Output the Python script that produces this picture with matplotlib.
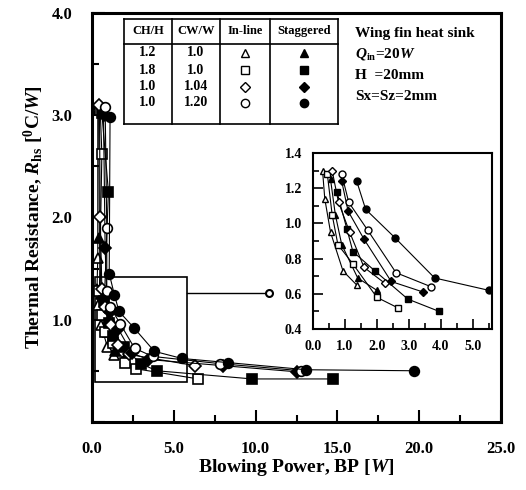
import numpy as np
import matplotlib.pyplot as plt
from matplotlib.patches import Rectangle
from matplotlib.ticker import MultipleLocator, FormatStrFormatter

plt.rcParams.update({"font.family": "Liberation Serif", "font.weight": "bold",
                     "mathtext.fontset": "custom",
                     "mathtext.rm": "Liberation Serif:bold",
                     "mathtext.it": "Liberation Serif:italic:bold",
                     "mathtext.bf": "Liberation Serif:bold"})

# blowing power [W] and thermal resistance [C/W], one list per case
# order: CH/H=1.2, CH/H=1.8, CW/W=1.04, CW/W=1.20
inline_x = [[0.35, 0.35, 0.3, 0.37, 0.55, 0.94, 1.37],
            [0.5, 0.6, 0.45, 0.6, 0.78, 1.25, 2.0, 2.66, 6.5],
            [0.45, 0.5, 0.6, 0.8, 1.15, 1.6, 2.25, 6.3],
            [0.8, 0.9, 0.9, 1.12, 1.72, 2.6, 3.7, 7.8, 12.8]]
inline_y = [[3.08, 1.6, 1.30, 1.14, 0.95, 0.73, 0.65],
            [3.05, 2.62, 1.28, 1.05, 0.88, 0.77, 0.58, 0.52, 0.42],
            [3.1, 2.0, 1.30, 1.12, 0.95, 0.75, 0.66, 0.55],
            [3.08, 1.9, 1.28, 1.12, 0.96, 0.72, 0.64, 0.57, 0.50]]
stag_x = [[0.4, 0.45, 0.55, 0.7, 0.9, 1.4, 2.0],
          [0.6, 1.0, 0.75, 1.06, 1.25, 1.94, 2.97, 3.95, 9.8, 14.7],
          [0.7, 0.8, 0.9, 1.1, 1.6, 2.45, 3.45, 8.0, 12.5],
          [1.1, 1.05, 1.37, 1.65, 2.56, 3.81, 5.5, 8.3, 13.1, 19.7]]
stag_y = [[3.05, 1.8, 1.25, 1.05, 0.88, 0.69, 0.62],
          [3.02, 2.25, 1.18, 0.97, 0.84, 0.73, 0.57, 0.50, 0.42, 0.42],
          [3.0, 1.7, 1.24, 1.07, 0.91, 0.67, 0.61, 0.55, 0.49],
          [2.98, 1.45, 1.24, 1.08, 0.92, 0.69, 0.62, 0.58, 0.51, 0.50]]
markers = ['^', 's', 'D', 'o']
ch_h = ['1.2', '1.8', '1.0', '1.0']
cw_w = ['1.0', '1.0', '1.04', '1.20']

fig = plt.figure(figsize=(5.26, 4.90), dpi=100)
ax = fig.add_axes([0.175, 0.139, 0.7776, 0.8347])
axin = fig.add_axes([0.595, 0.3286, 0.340, 0.359])

for i in range(4):
    for xs, ys, face in [(inline_x[i], inline_y[i], 'white'), (stag_x[i], stag_y[i], 'black')]:
        xs = np.array(xs)
        ys = np.array(ys)
        ms = 6 if markers[i] == 'D' else 7
        ax.plot(xs, ys, color='k', lw=0.8, marker=markers[i], ms=ms, mfc=face, mec='k', mew=1.2)
        m = (xs <= 5.6) & (ys <= 1.4)
        axin.plot(xs[m], ys[m], color='k', lw=0.8, marker=markers[i], ms=ms - 2, mfc=face, mec='k', mew=1.0)

# zoom box and its leader line
ax.add_patch(Rectangle((0.2, 0.39), 5.6, 1.03, fill=False, lw=1.2, ec='k'))
ax.plot([5.8, 10.7], [1.26, 1.26], color='k', lw=1.0)
ax.plot([10.8], [1.26], marker='o', ms=5, mfc='white', mec='k', mew=1.5)

ax.set_xlim(0, 25)
ax.set_ylim(0, 4)
ax.xaxis.set_major_locator(MultipleLocator(5))
ax.xaxis.set_minor_locator(MultipleLocator(2.5))
ax.yaxis.set_major_locator(MultipleLocator(1))
ax.yaxis.set_minor_locator(MultipleLocator(0.5))
ax.xaxis.set_major_formatter(FormatStrFormatter('%.1f'))
ax.set_yticks([0, 1, 2, 3, 4], ['', '1.0', '2.0', '3.0', '4.0'])
ax.tick_params(which='major', direction='in', length=9, width=1.5, labelsize=12, pad=14)
ax.tick_params(which='minor', direction='in', length=5, width=1.5)
for s in ax.spines.values():
    s.set_linewidth(2.2)
ax.set_xlabel('Blowing Power, BP [$W$]', fontsize=14, fontweight='bold', labelpad=0)
ax.set_ylabel('Thermal Resistance, $R_{\\rm hs}$ [$^{0}$C/$W$]', fontsize=14, fontweight='bold', labelpad=4)

axin.set_xlim(0, 5.6)
axin.set_ylim(0.4, 1.4)
axin.xaxis.set_major_locator(MultipleLocator(1))
axin.xaxis.set_minor_locator(MultipleLocator(0.5))
axin.yaxis.set_major_locator(MultipleLocator(0.2))
axin.yaxis.set_minor_locator(MultipleLocator(0.1))
axin.xaxis.set_major_formatter(FormatStrFormatter('%.1f'))
axin.yaxis.set_major_formatter(FormatStrFormatter('%.1f'))
axin.tick_params(which='major', direction='in', length=7, width=1.2, labelsize=10, pad=8)
axin.tick_params(which='minor', direction='in', length=4, width=1.2)
for s in axin.spines.values():
    s.set_linewidth(1.5)

# legend table drawn in figure pixels
W, H = 526, 490
cols = [124, 172, 220, 270, 338]
top, head, bot = 19, 44, 124
def fx(x):
    return x / W
def fy(y):
    return 1 - y / H
for x in cols:
    fig.add_artist(plt.Line2D([fx(x), fx(x)], [fy(top), fy(bot)], color='k', lw=1.2))
for y in [top, head, bot]:
    fig.add_artist(plt.Line2D([fx(cols[0]), fx(cols[-1])], [fy(y), fy(y)], color='k', lw=1.2))
heads = ['CH/H', 'CW/W', 'In-line', 'Staggered']
for j in range(4):
    fig.text(fx((cols[j] + cols[j + 1]) / 2), fy(31), heads[j], ha='center', va='center', fontsize=9)
rows = [53, 70, 87, 103]
for i in range(4):
    fig.text(fx((cols[0] + cols[1]) / 2), fy(rows[i]), ch_h[i], ha='center', va='center', fontsize=10)
    fig.text(fx((cols[1] + cols[2]) / 2), fy(rows[i]), cw_w[i], ha='center', va='center', fontsize=10)
    for j, face in [(2, 'white'), (3, 'black')]:
        fig.add_artist(plt.Line2D([fx((cols[j] + cols[j + 1]) / 2)], [fy(rows[i])], marker=markers[i],
                                  ms=5 if markers[i] == 'D' else 6, mfc=face, mec='k', mew=1.0))

info = ['Wing fin heat sink', '$Q_{\\rm in}$=20$W$', 'H  =20mm', 'Sx=Sz=2mm']
for k, t in enumerate(info):
    fig.text(fx(355), fy(33 + k * 21), t, ha='left', va='center', fontsize=11)

plt.savefig('out.png', dpi=100)
